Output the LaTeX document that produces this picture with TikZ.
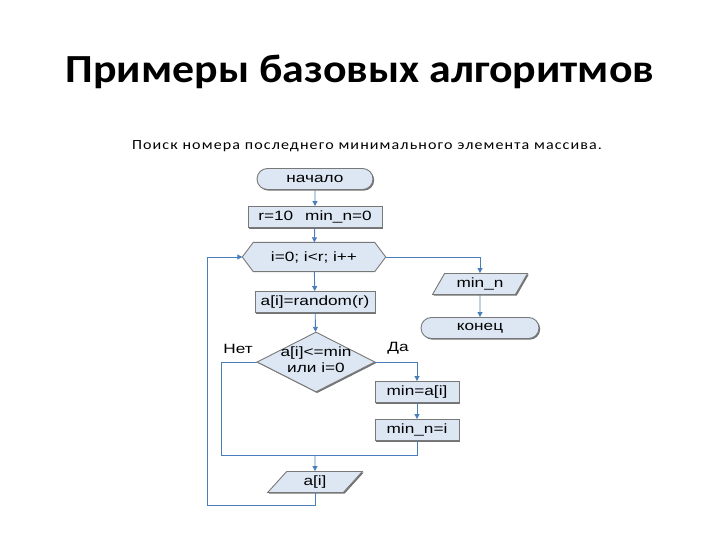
\documentclass[tikz,border=0pt]{standalone}
\usepackage{fontspec}
\setmainfont{Carlito}
\newfontfamily\titlefont[FakeStretch=1.1]{Carlito}
\newfontfamily\notefont[FakeStretch=1.15,LetterSpace=8]{Carlito}
\newfontfamily\chartfont[FakeStretch=1.28]{Liberation Sans}
\usepackage{tikz}
\usetikzlibrary{shapes.geometric,shapes.misc,arrows.meta,positioning,calc,shadows}
\definecolor{boxfill}{RGB}{221,231,243}
\definecolor{boxline}{RGB}{120,120,120}
\definecolor{flowcolor}{RGB}{74,126,187}
\newcommand{\flatlines}[1]{\makebox[0pt]{\raisebox{-.45em}{\smash{\begin{tabular}{@{}c@{}}#1\end{tabular}}}}}

\begin{document}
\begin{tikzpicture}[
    x=1bp, y=-1bp,
    font=\chartfont\fontsize{13.5}{16}\selectfont,
    boxshadow/.style={drop shadow={shadow xshift=1.2bp, shadow yshift=-1.2bp, fill=black!55, opacity=1}},
    terminal/.style={rounded rectangle, draw=boxline, fill=boxfill, line width=.9bp, minimum width=118bp, minimum height=21bp, inner sep=1bp, boxshadow},
    process/.style={rectangle, draw=boxline, fill=boxfill, line width=.9bp, minimum height=21bp, inner sep=1bp, boxshadow},
    decision/.style={diamond, draw=boxline, fill=boxfill, line width=.9bp, minimum width=118bp, minimum height=60bp, inner sep=0bp, boxshadow},
    inout/.style={trapezium, trapezium left angle=60, trapezium right angle=120, trapezium stretches=true, draw=boxline, fill=boxfill, line width=.9bp, minimum width=95bp, minimum height=21bp, inner sep=1bp, boxshadow},
    loophead/.style={rectangle, minimum width=143bp, minimum height=29bp, inner sep=1bp},
    flow/.style={->, >={Triangle[width=5bp,length=5bp]}, draw=flowcolor, line width=.9bp},
    joint/.style={draw=flowcolor, line width=.9bp}
]
    \useasboundingbox (0,0) rectangle (720,540);

    \node[font=\titlefont\fontsize{40}{48}\selectfont\bfseries] (title) at (360,72) {Примеры базовых алгоритмов};
    \node[font=\notefont\fontsize{14}{17}\selectfont] (subtitle) at (367,146) {Поиск номера последнего минимального элемента массива.};

    \node[terminal] (start) at (315,179) {начало};
    \node[process, minimum width=134bp] (init) at (315,217) {r=10\hspace{12bp}min\_n=0};
    \node[loophead] (loop) at (314,257) {i=0; i<r; i++};
    \node[process, minimum width=120bp] (rand) at (315,302) {a[i]=random(r)};
    \node[decision] (cond) at (316,362) {\flatlines{a[i]<=min\\или i=0}};
    \node[process, minimum width=84bp] (minA) at (417,392) {min=a[i]};
    \node[process, minimum width=84bp] (minN) at (417,430) {min\_n=i};
    \node[inout] (out) at (315,482) {a[i]};
    \node[inout] (result) at (480,284) {min\_n};
    \node[terminal, minimum width=120bp] (stop) at (480,328) {конец};

    \node (no) at (238,349) {Нет};
    \node (yes) at (398,348) {Да};

    % hexagon of the loop header
    \draw[draw=boxline, fill=boxfill, line width=.9bp]
        ($(loop.north west)+(11,0)$) -- ($(loop.north east)+(-11,0)$) -- (loop.east)
        -- ($(loop.south east)+(-11,0)$) -- ($(loop.south west)+(11,0)$) -- (loop.west) -- cycle;
    \node[loophead] at (loop) {i=0; i<r; i++};

    \coordinate (merge) at (315,455);
    \coordinate (back) at (207,505);

    \draw[flow] (start) -- (init);
    \draw[flow] (init) -- (loop);
    \draw[flow] (loop) -- (rand);
    \draw[flow] (rand) -- (cond);
    \draw[flow] (cond.east) -| (minA.north);
    \draw[flow] (minA) -- (minN);
    \draw[joint] (minN.south) |- (merge);
    \draw[joint] (cond.west) -- ++(-35,0) |- (merge);
    \draw[flow] (merge) -- (out.north);
    \draw[flow] (out.south) |- (back) |- (loop.west);
    \draw[flow] (loop.east) -| (result.north);
    \draw[flow] (result) -- (stop);

\end{tikzpicture}
\end{document}
